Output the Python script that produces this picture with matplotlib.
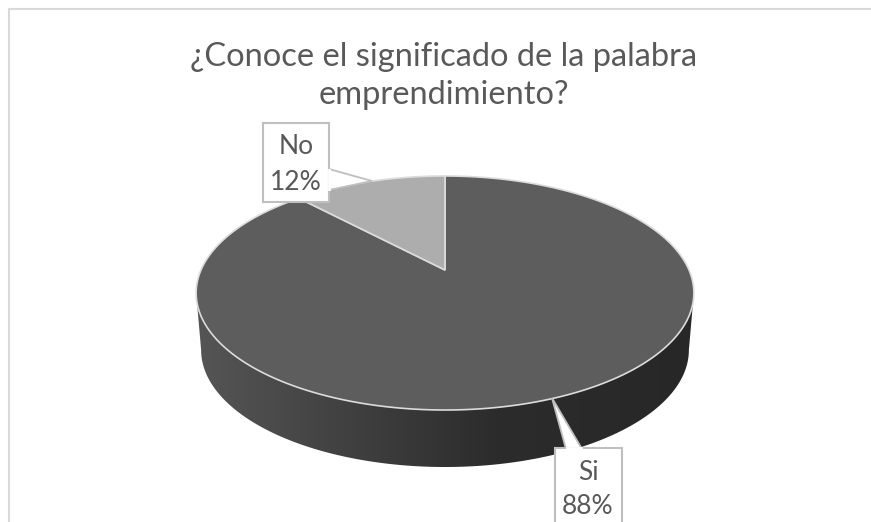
import numpy as np
import matplotlib
matplotlib.use('Agg')
import matplotlib.pyplot as plt
from matplotlib.patches import Polygon, Rectangle
from matplotlib.colors import LinearSegmentedColormap

title = '¿Conoce el significado de la palabra\nemprendimiento?'
labels = ['Si', 'No']
values = [88, 12]
top_colors = ['#5d5d5d', '#adadad']

plt.rcParams['font.family'] = ['Lato', 'DejaVu Sans']
text_color = '#595959'
box_edge = '#bfbfbf'

# pie geometry in picture pixels (3d look = circle through a perspective map)
cx, apex_y, sx = 445, 270, 244
ya, k = -59.4, 0.1966
depth = 57
low_scale = 0.98


def project(theta, scale=1.0, shift=0):
    u, v = np.sin(theta), np.cos(theta)
    w = 1 + k * v
    return np.column_stack([cx + sx * scale * u / w, (apex_y + ya * v) / w + shift])


fig = plt.figure(figsize=(8.71, 5.22), dpi=100)
ax = fig.add_axes([0, 0, 1, 1])
ax.set_xlim(0, 871)
ax.set_ylim(522, 0)
ax.axis('off')

# chart frame, only left and top are visible in the crop
ax.plot([9, 9, 871], [522, 8.5, 8.5], color='#d9d9d9', lw=1.5, zorder=1)

# side of the pie
th_r = np.arccos(-k)
th_l = 2 * np.pi - th_r
front = np.linspace(th_r, th_l, 300)
side_pts = np.vstack([project(front), project(front[::-1], low_scale, depth)])
side = Polygon(side_pts, closed=True, fc='none', ec='none', transform=ax.transData)
ax.add_patch(side)
cmap = LinearSegmentedColormap.from_list('side', [(0, '#272727'), (0.4, '#2c2c2c'), (1, '#565656')])
grad = np.linspace(1, 0, 256).reshape(1, -1)
im = ax.imshow(grad, extent=[190, 700, 522, 0], cmap=cmap, aspect='auto', zorder=2)
im.set_clip_path(side)
ax.set_xlim(0, 871)
ax.set_ylim(522, 0)

# top slices, clockwise from twelve o'clock
start = 0.0
total = sum(values)
for val, col in zip(values, top_colors):
    stop = start + val / total * 2 * np.pi
    arc = project(np.linspace(start, stop, 300))
    pts = np.vstack([[cx, apex_y], arc])
    ax.add_patch(Polygon(pts, closed=True, fc=col, ec='#dcdcdc', lw=1.2, zorder=3))
    start = stop

# callouts
ax.add_patch(Polygon([[329, 169], [372, 181], [329, 190]], closed=True, fc='white', ec=box_edge, lw=1.3, zorder=4))
ax.add_patch(Rectangle((263, 123), 66, 79, fc='white', ec=box_edge, lw=1.5, zorder=4))
ax.plot([329, 329], [170, 189], color='white', lw=2, zorder=4)
ax.add_patch(Polygon([[566, 449], [552, 398], [582, 449]], closed=True, fc='white', ec=box_edge, lw=1.3, zorder=4))
ax.add_patch(Rectangle((555, 448), 67, 90, fc='white', ec=box_edge, lw=1.5, zorder=4))
ax.plot([567, 581], [448, 448], color='white', lw=2, zorder=4)

pct = [round(v / total * 100) for v in values]
ax.text(296, 146, labels[1], ha='center', va='center', fontsize=19, color=text_color, zorder=5)
ax.text(296, 182, f'{pct[1]}%', ha='center', va='center', fontsize=19, color=text_color, zorder=5)
ax.text(588, 472, labels[0], ha='center', va='center', fontsize=19, color=text_color, zorder=5)
ax.text(588, 507, f'{pct[0]}%', ha='center', va='center', fontsize=19, color=text_color, zorder=5)

ax.text(444, 76, title, ha='center', va='center', fontsize=23.5, color=text_color,
        linespacing=1.3, zorder=5)

fig.savefig('out.png', dpi=100, facecolor='white')
